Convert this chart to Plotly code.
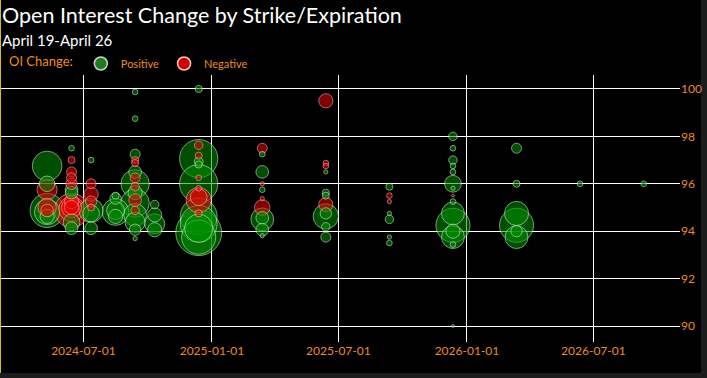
import plotly.graph_objects as go

# ---- data ----
expiry = (
    ["2024-05-10"] * 8
    + ["2024-06-14"] * 14
    + ["2024-07-12"] * 8
    + ["2024-08-16"] * 5
    + ["2024-09-13"] * 17
    + ["2024-10-11"] * 4
    + ["2024-12-13"] * 17
    + ["2025-03-14"] * 11
    + ["2025-06-13"] * 11
    + ["2025-09-12"] * 7
    + ["2025-12-12"] * 15
    + ["2026-03-13"] * 6
    + ["2026-06-12"] * 1
    + ["2026-09-11"] * 1
)

strike = [
    # 2024-05-10
    96.75, 96.0, 95.75, 94.875, 94.8125, 95.0, 94.875, 94.625,
    # 2024-06-14
    97.5, 97.0, 96.5, 96.25, 96.0, 95.75, 95.625, 95.25, 94.875, 94.9375, 95.0, 95.0, 94.375, 94.125,
    # 2024-07-12
    97.0, 96.0, 95.5625, 95.25, 94.875, 94.75, 95.0, 94.125,
    # 2024-08-16
    95.5, 95.375, 94.8125, 94.875, 94.625,
    # 2024-09-13
    99.875, 98.75, 97.25, 97.0, 96.875, 96.5, 96.25, 96.0, 95.875, 95.625, 95.1875, 95.3125,
    94.875, 94.6875, 94.375, 94.0625, 93.6875,
    # 2024-10-11
    95.125, 94.6875, 94.3125, 94.0625,
    # 2024-12-13
    100.0, 97.625, 97.1875, 97.0625, 96.9375, 96.8125, 96.0, 96.25, 95.8125, 95.3125, 95.4375,
    94.75, 94.625, 94.3125, 93.9375, 93.75, 94.125,
    # 2025-03-14
    97.5, 97.25, 96.5, 96.0, 95.75, 95.375, 95.0, 94.5, 94.5625, 94.0625, 93.8125,
    # 2025-06-13
    99.5, 96.875, 96.75, 96.5, 95.625, 95.5, 95.125, 94.625, 94.75, 94.1875, 93.75,
    # 2025-09-12
    95.875, 95.5, 95.25, 94.75, 94.5, 93.75, 93.5,
    # 2025-12-12
    98.0, 97.5, 97.0, 96.75, 96.5, 96.0, 95.8125, 95.5, 95.25, 94.75, 94.25, 93.75, 94.0, 93.4375, 90.0,
    # 2026-03-13
    97.5, 96.0, 94.75, 94.25, 93.75, 94.0,
    # 2026-06-12
    96.0,
    # 2026-09-11
    96.0,
]

oi_change = [
    # 2024-05-10
    4400, 1200, -2000, 5800, 3200, -1700, -800, 1000,
    # 2024-06-14
    160, -250, -500, -500, -640, 800, 800, -1000, -5800, -3200, -2000, -1000, 1400, 800,
    # 2024-07-12
    160, -500, -1000, -640, 2900, 1400, -250, 800,
    # 2024-08-16
    250, 640, 3600, 1600, 1000,
    # 2024-09-13
    160, 160, 500, -250, -250, 800, -500, 4000, -360, 1000, 4000, -800,
    -360, 2600, 2000, 640, 90,
    # 2024-10-11
    360, 1000, 2000, 1000,
    # 2024-12-13
    250, -360, -250, 7300, 400, 250, 7300, -160, -160, -3200, -1400,
    -250, 6800, 6800, 10500, 5800, 4000,
    # 2025-03-14
    -500, 160, 800, -90, 160, -90, -1200, 2600, 800, 800, 90,
    # 2025-06-13
    -1000, -160, -160, 90, 250, 250, -1000, 3200, 640, 360, 500,
    # 2025-09-12
    250, -160, -90, 90, 360, 90, 160,
    # 2025-12-12
    360, 160, 360, 160, 160, 1400, 90, -40, 160, 2600, 5800, 2600, 1000, 160, 40,
    # 2026-03-13
    500, 250, 2900, 5800, 2600, 640,
    # 2026-06-12
    160,
    # 2026-09-11
    160,
]

y_ticks = [90, 92, 94, 96, 98, 100]
x_ticks = ["2024-07-01", "2025-01-01", "2025-07-01", "2026-01-01", "2026-07-01"]

title_text = "Open Interest Change by Strike/Expiration"
subtitle_text = "April 19-April 26"
legend_title = "OI Change:"

# ---- build figure ----
order = sorted(range(len(strike)), key=lambda i: -abs(oi_change[i]))
xs = [expiry[i] for i in order]
ys = [strike[i] for i in order]
sz = [abs(oi_change[i]) for i in order]
fill = ["rgba(0,145,0,0.78)" if oi_change[i] > 0 else "rgba(240,0,0,0.78)" for i in order]
edge = ["rgba(200,245,200,0.85)" if oi_change[i] > 0 else "rgba(255,175,175,0.85)" for i in order]
hover = ["%+d" % oi_change[i] for i in order]

ORANGE = "#f08a1c"
FONT = "Lato"

fig = go.Figure()
fig.add_trace(go.Scatter(
    x=xs, y=ys, mode="markers", showlegend=False, text=hover,
    marker=dict(size=sz, sizemode="area", sizeref=10, sizemin=1,
                color=fill, line=dict(color=edge, width=1)),
))
fig.add_trace(go.Scatter(
    x=[None], y=[None], mode="markers", name="Positive",
    marker=dict(size=13, color="#1d7d1d", line=dict(color="#d0d0d0", width=1.5)),
))
fig.add_trace(go.Scatter(
    x=[None], y=[None], mode="markers", name="Negative",
    marker=dict(size=13, color="#d00000", line=dict(color="#f0c8c8", width=1.5)),
))

L, R, T, B = 1, 27, 75, 36
W, H = 707, 378
pw, ph = W - L - R, H - T - B

def px_x(p):
    return (p - L) / pw

def px_y(p):
    return (H - B - p) / ph

fig.update_layout(
    width=W, height=H,
    margin=dict(l=L, r=R, t=T, b=B, pad=0),
    paper_bgcolor="black", plot_bgcolor="black",
    font=dict(family=FONT, color=ORANGE),
    showlegend=True,
    legend=dict(
        orientation="h", x=px_x(7), y=px_y(49), xanchor="left", yanchor="top",
        bgcolor="rgba(0,0,0,0)",
        title=dict(text=legend_title, font=dict(size=13, color=ORANGE, family=FONT)),
        font=dict(size=11, color=ORANGE, family=FONT),
        itemsizing="trace",
    ),
    xaxis=dict(
        type="date", range=["2024-03-05", "2026-11-02"],
        tickvals=x_ticks, ticktext=x_ticks,
        showgrid=True, gridcolor="white", gridwidth=1.2,
        zeroline=False, showline=False, ticks="",
        tickfont=dict(size=12, color=ORANGE, family=FONT),
    ),
    yaxis=dict(
        side="right", range=[89.325, 100.59],
        tickvals=y_ticks,
        showgrid=True, gridcolor="white", gridwidth=1.2,
        zeroline=False, showline=False, ticks="",
        tickfont=dict(size=12, color=ORANGE, family=FONT),
    ),
    annotations=[
        dict(text=title_text, xref="paper", yref="paper", x=px_x(0), y=px_y(0),
             xanchor="left", yanchor="top", showarrow=False,
             font=dict(size=21.5, color="white", family=FONT)),
        dict(text=subtitle_text, xref="paper", yref="paper", x=px_x(0), y=px_y(29),
             xanchor="left", yanchor="top", showarrow=False,
             font=dict(size=15, color="white", family=FONT)),
    ],
    shapes=[
        dict(type="rect", xref="paper", yref="paper", x0=px_x(701), x1=px_x(708),
             y0=px_y(380), y1=px_y(-2), fillcolor="#1c1c1c", line=dict(width=0), layer="below"),
        dict(type="rect", xref="paper", yref="paper", x0=px_x(-1), x1=px_x(708),
             y0=px_y(380), y1=px_y(373), fillcolor="#1c1c1c", line=dict(width=0), layer="below"),
        dict(type="line", xref="paper", yref="paper", x0=px_x(0.5), x1=px_x(0.5),
             y0=px_y(373), y1=px_y(-2), line=dict(color="#d8c000", width=1)),
    ],
)

fig.write_html(
    "out.html",
    config={"displayModeBar": False},
    post_script="document.body.style.margin='0';document.body.style.overflow='hidden';",
)
